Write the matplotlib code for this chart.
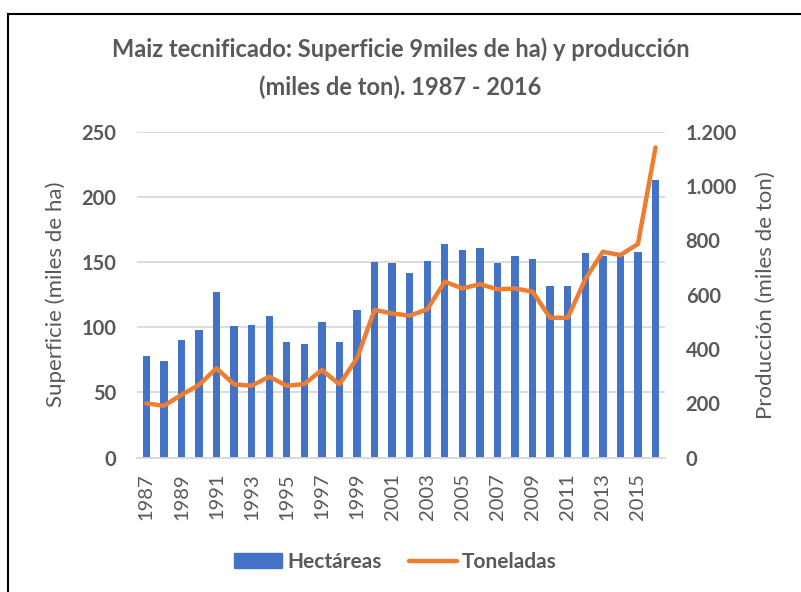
import matplotlib.pyplot as plt
import numpy as np
from matplotlib.lines import Line2D
from matplotlib.patches import Patch
from matplotlib.ticker import FuncFormatter

plt.rcParams['font.family'] = ['Lato', 'DejaVu Sans']

# datos
years = list(range(1987, 2017))
hectareas = [78, 74, 90, 98, 127, 101, 102, 109, 89, 87,
             104, 89, 113, 150, 149, 142, 151, 164, 159, 161,
             149, 155, 152, 132, 132, 157, 155, 155, 158, 213]
toneladas = [200, 191, 231, 268, 329, 270, 265, 298, 265, 271,
             323, 270, 366, 544, 531, 523, 546, 648, 623, 639,
             620, 623, 611, 515, 515, 657, 758, 746, 787, 1142]

gris = '#595959'
azul = '#4472C4'
naranja = '#ED7D31'

fig = plt.figure(figsize=(8.01, 5.92), dpi=100)
ax = fig.add_axes([0.171, 0.2269, 0.659, 0.5506])
ax2 = ax.twinx()

x = np.arange(len(years))
ax.bar(x, hectareas, width=0.42, color=azul, zorder=2)
ax2.plot(x, toneladas, color=naranja, linewidth=3.2, solid_capstyle='round', zorder=3)

ax.set_xlim(-0.53, len(years) - 0.47)
ax.set_ylim(0, 250)
ax2.set_ylim(0, 1200)
ax.set_yticks([0, 50, 100, 150, 200, 250])
ax2.set_yticks([0, 200, 400, 600, 800, 1000, 1200])
ax2.yaxis.set_major_formatter(FuncFormatter(lambda v, p: f'{int(v):,}'.replace(',', '.')))

ax.set_xticks(x[::2])
ax.set_xticklabels([str(y) for y in years[::2]], rotation=90, fontsize=14.5, color=gris)

ax.yaxis.grid(True, color='#D9D9D9', linewidth=1.3, zorder=0)
ax.set_axisbelow(True)
for a in (ax, ax2):
    for s in a.spines.values():
        s.set_visible(False)
    a.tick_params(length=0)
ax.spines['bottom'].set_visible(True)
ax.spines['bottom'].set_color('#D9D9D9')
ax.spines['bottom'].set_linewidth(1.3)

for lbl in ax.get_yticklabels():
    lbl.set_fontweight('bold')
for lbl in ax2.get_yticklabels():
    lbl.set_fontweight('bold')
ax.tick_params(axis='y', labelsize=14.5, labelcolor=gris, pad=15)
ax2.tick_params(axis='y', labelsize=14.5, labelcolor=gris, pad=15)
ax.tick_params(axis='x', pad=11)

ax.set_ylabel('Superficie (miles de ha)', fontsize=16, color=gris, labelpad=11)
ax2.set_ylabel('Producción (miles de ton)', fontsize=16, color=gris, labelpad=14)

fig.text(0.5, 0.884, 'Maiz tecnificado: Superficie 9miles de ha) y producción\n(miles de ton). 1987 - 2016',
         ha='center', va='center', fontsize=17, fontweight='bold', color=gris, linespacing=1.75)

handles = [Patch(color=azul), Line2D([0], [0], color=naranja, linewidth=3.2, solid_capstyle='round')]
leg = fig.legend(handles, ['Hectáreas', 'Toneladas'], loc='center', bbox_to_anchor=(0.494, 0.051),
                 ncol=2, frameon=False, handlelength=2.3, columnspacing=1.3, handletextpad=0.25,
                 prop={'size': 15, 'weight': 'bold'})
for t in leg.get_texts():
    t.set_color(gris)

# marco
fig.add_artist(Line2D([7.5 / 801, 1], [1 - 13.5 / 592, 1 - 13.5 / 592], color='black', linewidth=1.5))
fig.add_artist(Line2D([7.5 / 801, 7.5 / 801], [0, 1 - 13.5 / 592], color='black', linewidth=1.5))

fig.savefig('out.png', dpi=100)
